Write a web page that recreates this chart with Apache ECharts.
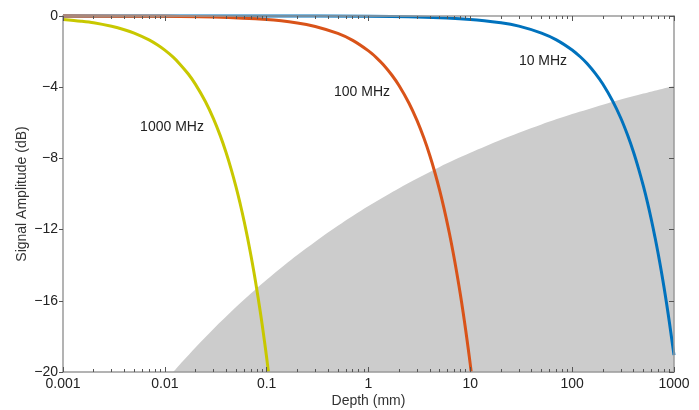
<!DOCTYPE html>
<html>
<head>
<meta charset="utf-8">
<script src="https://cdn.jsdelivr.net/npm/echarts@6/dist/echarts.min.js"></script>
<style>
html,body{margin:0;padding:0;background:#fff;}
#c{width:699px;height:410px;}
</style>
</head>
<body>
<div id="c"></div>
<script>
// ---- data ----
var xTickValues = [0.001, 0.01, 0.1, 1, 10, 100, 1000];
var xTickLabels = ['0.001', '0.01', '0.1', '1', '10', '100', '1000'];
var xMinorTicks = [0.002,0.003,0.004,0.005,0.006,0.007,0.008,0.009,
  0.02,0.03,0.04,0.05,0.06,0.07,0.08,0.09,
  0.2,0.3,0.4,0.5,0.6,0.7,0.8,0.9,
  2,3,4,5,6,7,8,9,
  20,30,40,50,60,70,80,90,
  200,300,400,500,600,700,800,900];
var yTickValues = [0, -4, -8, -12, -16, -20];
var yTickLabels = ['0', '\u22124', '\u22128', '\u221212', '\u221216', '\u221220'];

// depth (mm), amplitude (dB)
var curve1000 = [[0.001,-0.19],[0.0015,-0.29],[0.002,-0.38],[0.003,-0.58],[0.004,-0.77],[0.005,-0.96],
  [0.007,-1.34],[0.0085,-1.63],[0.01,-1.92],[0.012,-2.3],[0.014,-2.69],[0.017,-3.26],[0.02,-3.84],
  [0.025,-4.8],[0.03,-5.76],[0.035,-6.72],[0.04,-7.68],[0.045,-8.64],[0.05,-9.6],[0.055,-10.56],
  [0.06,-11.52],[0.065,-12.48],[0.07,-13.44],[0.075,-14.4],[0.08,-15.36],[0.085,-16.32],
  [0.09,-17.28],[0.095,-18.24],[0.1,-19.2],[0.104,-20]];
var curve100 = [[0.001,-0.002],[0.01,-0.02],[0.03,-0.06],[0.1,-0.2],[0.2,-0.39],[0.3,-0.59],
  [0.5,-0.98],[0.7,-1.37],[1,-1.96],[1.2,-2.35],[1.4,-2.74],[1.7,-3.33],[2,-3.92],[2.5,-4.9],
  [3,-5.88],[3.5,-6.86],[4,-7.84],[4.5,-8.82],[5,-9.8],[5.5,-10.78],[6,-11.76],[6.5,-12.74],
  [7,-13.72],[7.5,-14.7],[8,-15.68],[8.5,-16.66],[9,-17.64],[9.5,-18.62],[10,-19.6],[10.2,-20]];
var curve10 = [[0.001,0],[0.1,-0.002],[1,-0.019],[3,-0.057],[10,-0.19],[20,-0.38],[30,-0.57],
  [50,-0.96],[70,-1.34],[100,-1.91],[120,-2.29],[140,-2.67],[170,-3.25],[200,-3.82],[250,-4.78],
  [300,-5.73],[350,-6.69],[400,-7.64],[450,-8.6],[500,-9.55],[550,-10.5],[600,-11.46],
  [650,-12.42],[700,-13.37],[750,-14.33],[800,-15.28],[850,-16.24],[900,-17.19],[950,-18.15],[1000,-19.05]];
var shadeEdge = [[0.0121,-20],[0.015,-19.4],[0.02,-18.62],[0.03,-17.58],[0.05,-16.35],[0.07,-15.59],
  [0.1,-14.82],[0.15,-13.99],[0.2,-13.43],[0.3,-12.68],[0.5,-11.79],[0.7,-11.24],[1,-10.68],
  [1.5,-10.08],[2,-9.67],[3,-9.13],[5,-8.48],[7,-8.08],[10,-7.68],[20,-6.95],[30,-6.56],
  [50,-6.09],[100,-5.51],[200,-4.98],[300,-4.69],[500,-4.36],[1000,-3.93]];

var labelTexts = ['1000 MHz', '100 MHz', '10 MHz'];

var FONT = '"Liberation Sans", Arial, Helvetica, sans-serif';
var chart = echarts.init(document.getElementById('c'), null, {renderer: 'canvas'});

function labelFmt(v) {
  for (var i = 0; i < xTickValues.length; i++) {
    if (Math.abs(Math.log10(v) - Math.log10(xTickValues[i])) < 1e-6) return xTickLabels[i];
  }
  return '';
}
function yFmt(v) {
  var i = yTickValues.indexOf(Math.round(v));
  return i >= 0 ? yTickLabels[i] : '';
}

var axisLineStyle = {color: '#9a9a9a', width: 1.5};
var tickStyle = {color: '#555', width: 1};

var option = {
  animation: false,
  backgroundColor: '#fff',
  textStyle: {fontFamily: FONT},
  grid: {left: 63, right: 25, top: 16, bottom: 38, containLabel: false, outerBoundsMode: 'none'},
  xAxis: [
    {type: 'log', logBase: 10, min: 0.001, max: 1000, position: 'bottom', z: 5,
     name: 'Depth (mm)', nameLocation: 'middle', nameGap: 22, nameMoveOverlap: false,
     nameTextStyle: {fontFamily: FONT, fontSize: 14, color: '#333'},
     axisLine: {show: true, onZero: false, lineStyle: axisLineStyle}, splitLine: {show: false},
     axisTick: {show: true, inside: true, length: 5, lineStyle: tickStyle, customValues: xTickValues},
     axisLabel: {show: true, margin: 5, fontFamily: FONT, fontSize: 14, color: '#222', formatter: labelFmt, customValues: xTickValues},
     minorTick: {show: false}},
    {type: 'log', logBase: 10, min: 0.001, max: 1000, position: 'bottom', z: 5,
     axisLine: {show: false, onZero: false}, splitLine: {show: false}, axisLabel: {show: false},
     axisTick: {show: true, inside: true, length: 3, lineStyle: tickStyle, customValues: xMinorTicks}},
    {type: 'log', logBase: 10, min: 0.001, max: 1000, position: 'top', z: 5,
     axisLine: {show: true, onZero: false, lineStyle: axisLineStyle}, splitLine: {show: false}, axisLabel: {show: false},
     axisTick: {show: true, inside: true, length: 5, lineStyle: tickStyle, customValues: xTickValues}},
    {type: 'log', logBase: 10, min: 0.001, max: 1000, position: 'top', z: 5,
     axisLine: {show: false, onZero: false}, splitLine: {show: false}, axisLabel: {show: false},
     axisTick: {show: true, inside: true, length: 3, lineStyle: tickStyle, customValues: xMinorTicks}}
  ],
  yAxis: [
    {type: 'value', min: -20, max: 0, interval: 4, position: 'left', z: 5,
     name: 'Signal Amplitude (dB)', nameLocation: 'middle', nameGap: 34, nameMoveOverlap: false,
     nameTextStyle: {fontFamily: FONT, fontSize: 14, color: '#333'},
     axisLine: {show: true, onZero: false, lineStyle: axisLineStyle}, splitLine: {show: false},
     axisTick: {show: true, inside: false, length: 4, lineStyle: tickStyle},
     axisLabel: {margin: 5, fontFamily: FONT, fontSize: 14, color: '#222', formatter: yFmt}},
    {type: 'value', min: -20, max: 0, interval: 4, position: 'right', z: 5,
     axisLine: {show: true, onZero: false, lineStyle: axisLineStyle}, splitLine: {show: false}, axisLabel: {show: false},
     axisTick: {show: true, inside: true, length: 5, lineStyle: tickStyle}}
  ],
  series: [
    {type: 'line', name: 'shade', data: shadeEdge, xAxisIndex: 0, yAxisIndex: 0, z: 1,
     symbol: 'none', smooth: 0.3, silent: true,
     lineStyle: {width: 0, color: '#cccccc'},
     areaStyle: {color: '#cccccc', opacity: 1, origin: 'start'}},
    {type: 'line', name: '10 MHz', data: curve10, z: 2, symbol: 'none', smooth: 0.3, clip: false,
     lineStyle: {width: 3, color: '#0072BD'}},
    {type: 'line', name: '100 MHz', data: curve100, z: 2, symbol: 'none', smooth: 0.3, clip: false,
     lineStyle: {width: 3, color: '#D95319'}},
    {type: 'line', name: '1000 MHz', data: curve1000, z: 2, symbol: 'none', smooth: 0.3, clip: false,
     lineStyle: {width: 3, color: '#C8C800'}}
  ],
  graphic: [
    {type: 'text', x: 172, y: 127, style: {text: labelTexts[0], font: '14px ' + FONT, fill: '#222', align: 'center', verticalAlign: 'middle'}, z: 10},
    {type: 'text', x: 362, y: 92, style: {text: labelTexts[1], font: '14px ' + FONT, fill: '#222', align: 'center', verticalAlign: 'middle'}, z: 10},
    {type: 'text', x: 543, y: 61, style: {text: labelTexts[2], font: '14px ' + FONT, fill: '#222', align: 'center', verticalAlign: 'middle'}, z: 10}
  ]
};
chart.setOption(option);
</script>
</body>
</html>
